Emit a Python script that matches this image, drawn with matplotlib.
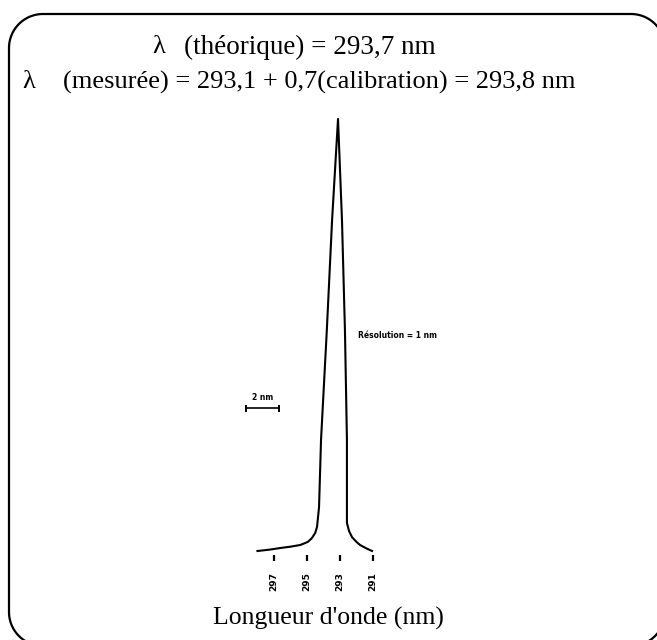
import matplotlib
matplotlib.use("Agg")
import matplotlib.pyplot as plt
import numpy as np

W, H, DPI = 657, 640, 100
SERIF = "Liberation Serif"

# spectrum trace: wavelength (nm) vs relative intensity
wavelength = [298.0, 297.3, 296.6, 296.0, 295.4, 294.95, 294.7, 294.5, 294.39,
              294.27, 294.15, 293.8, 293.48, 293.12, 292.88, 292.7, 292.58,
              292.58, 292.45, 292.27, 292.0, 291.79, 291.4, 291.06]
intensity = [0.0, 0.3, 0.7, 1.0, 1.4, 2.1, 3.0, 4.2, 5.6,
             10.2, 25.7, 51.0, 76.6, 100.0, 76.6, 51.0, 25.7,
             6.5, 4.6, 3.2, 2.1, 1.4, 0.6, 0.0]

tick_nm = [297, 295, 293, 291]
tick_labels = ["297", "295", "293", "291"]

scale_bar = (298.7, 296.7)   # 2 nm bar
resolution_nm = 1
lambda_theo = "293,7"
lambda_meas = "293,1"
calibration = "0,7"
lambda_corr = "293,8"


def rounded_rect(x0, y0, x1, y1, r, n=24):
    """Outline of a rounded rectangle as a closed polyline."""
    pts = []
    corners = [(x1 - r, y1 - r, 0), (x0 + r, y1 - r, 90),
               (x0 + r, y0 + r, 180), (x1 - r, y0 + r, 270)]
    for cx, cy, a0 in corners:
        t = np.radians(np.linspace(a0, a0 + 90, n))
        pts.append(np.column_stack([cx + r * np.cos(t), cy + r * np.sin(t)]))
    pts = np.vstack(pts)
    return np.vstack([pts, pts[:1]])


fig = plt.figure(figsize=(W / DPI, H / DPI), dpi=DPI)
fig.patch.set_facecolor("white")

# overlay in pixel units (y up) for the frame and headings
bg = fig.add_axes([0, 0, 1, 1])
bg.set_xlim(0, W)
bg.set_ylim(0, H)
bg.axis("off")
outline = rounded_rect(9, H - 646, 665, H - 14, 34)
bg.plot(outline[:, 0], outline[:, 1], color="black", lw=1.6, clip_on=False)

bg.text(152, H - 47, "λ", fontsize=19, family=SERIF, va="center", ha="left")
bg.text(184, H - 47, f"(théorique) = {lambda_theo} nm", fontsize=19.5, family=SERIF,
        va="center", ha="left")
bg.text(22, H - 82, "λ", fontsize=19, family=SERIF, va="center", ha="left")
bg.text(63, H - 82, f"(mesurée) = {lambda_meas} + {calibration}(calibration) = {lambda_corr} nm",
        fontsize=19, family=SERIF, va="center", ha="left")
bg.text(328, H - 618, "Longueur d'onde (nm)", fontsize=18.5, family=SERIF,
        va="center", ha="center")

# spectrum axes: 16.5 px per nm, 4.32 px per intensity unit
px_nm, px_int = 16.5, 4.32
x_left, x_right = 299.0, 290.0
y_bot, y_top = -15.0, 105.0
left_px = 274 - (x_left - 297) * px_nm
top_px = 551 - y_top * px_int
width_px = (x_left - x_right) * px_nm
height_px = (y_top - y_bot) * px_int
ax = fig.add_axes([left_px / W, 1 - (top_px + height_px) / H, width_px / W, height_px / H])
ax.set_xlim(x_left, x_right)
ax.set_ylim(y_bot, y_top)
ax.axis("off")
ax.patch.set_alpha(0)

ax.plot(wavelength, intensity, color="black", lw=1.5, solid_joinstyle="round")

# short tick dashes and rotated labels under the trace
ax.vlines(tick_nm, -2.4, -1.0, color="black", lw=1.6)
for t, lab in zip(tick_nm, tick_labels):
    ax.text(t, -4.8, lab, rotation=90, fontsize=6.5, fontweight="bold",
            ha="center", va="top")

# 2 nm scale bar
bar_y = 33.0
ax.plot(scale_bar, [bar_y, bar_y], color="black", lw=1.2)
ax.vlines(scale_bar, bar_y - 0.9, bar_y + 0.9, color="black", lw=1.4)
ax.text(sum(scale_bar) / 2, bar_y + 1.6, "2 nm", fontsize=5.5, fontweight="bold",
        ha="center", va="bottom")

ax.text(291.9, 50.0, f"Résolution = {resolution_nm} nm", fontsize=5.5,
        fontweight="bold", ha="left", va="center")

fig.savefig("out.png", dpi=DPI, facecolor="white")
